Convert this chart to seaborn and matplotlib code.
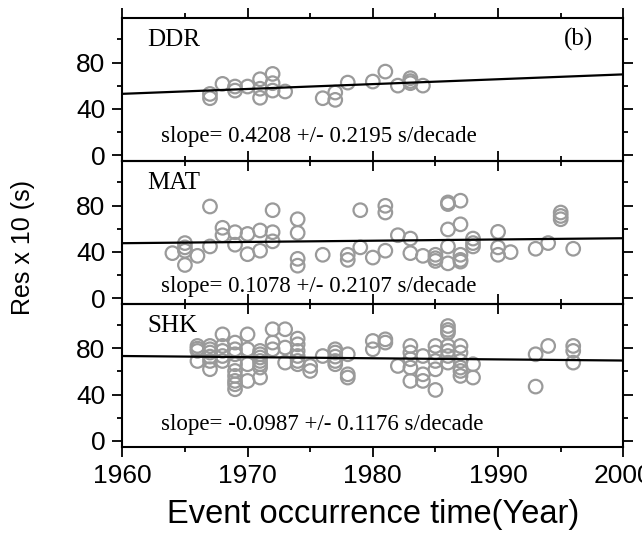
import pandas as pd
import matplotlib
matplotlib.use("Agg")
import matplotlib.pyplot as plt
import seaborn as sns
from matplotlib.ticker import MultipleLocator

# station names and fit labels
stations = ["DDR", "MAT", "SHK"]
slope_labels = ["slope= 0.4208 +/- 0.2195 s/decade",
                "slope= 0.1078 +/- 0.2107 s/decade",
                "slope= -0.0987 +/- 0.1176 s/decade"]

# fit line values at 1960 and 2000
fit_years = [1960, 2000]
fit_ddr = [53.0, 69.8]
fit_mat = [47.5, 51.8]
fit_shk = [73.3, 69.4]

# DDR residuals
ddr_year = [1967, 1967, 1968, 1969, 1969, 1970, 1971, 1971, 1971, 1972, 1972, 1972,
            1973, 1976, 1977, 1977, 1978, 1980, 1981, 1982, 1983, 1983, 1983, 1984]
ddr_res = [52.9, 49.2, 61.6, 59.3, 55.8, 59.3, 65.6, 57.4, 49.6, 70.2, 62.2, 55.8,
           55.0, 49.2, 54.1, 47.8, 62.7, 63.6, 72.2, 60.1, 66.5, 62.2, 64.0, 60.1]

# MAT residuals
mat_year = [1964, 1965, 1965, 1965, 1965, 1966, 1967, 1967, 1968, 1968, 1969, 1969,
            1970, 1970, 1971, 1971, 1972, 1972, 1972, 1974, 1974, 1974, 1974, 1976,
            1978, 1978, 1979, 1979, 1980, 1981, 1981, 1981, 1982, 1983, 1983, 1984,
            1985, 1985, 1985, 1986, 1986, 1986, 1986, 1986, 1987, 1987, 1987, 1987,
            1987, 1988, 1988, 1988, 1990, 1990, 1990, 1991, 1993, 1994, 1995, 1995,
            1995, 1996]
mat_res = [38.9, 47.6, 43.9, 41.0, 28.7, 36.6, 79.2, 44.7, 60.8, 54.4, 57.0, 46.2,
           55.5, 38.0, 58.5, 41.0, 76.0, 57.0, 49.1, 68.2, 56.4, 34.0, 28.1, 37.5,
           37.5, 33.1, 76.0, 43.9, 35.1, 79.8, 74.0, 41.0, 54.4, 51.5, 38.9, 36.6,
           37.5, 34.5, 32.2, 82.7, 81.3, 59.4, 44.7, 30.1, 84.2, 63.8, 37.5, 33.1,
           31.6, 51.5, 47.6, 44.7, 57.3, 43.9, 37.5, 39.8, 42.7, 47.6, 74.0, 71.0,
           68.2, 42.7]

# SHK residuals
shk_year = [1966, 1966, 1966, 1966,
            1967, 1967, 1967, 1967, 1967, 1967,
            1968, 1968, 1968, 1968, 1968,
            1969, 1969, 1969, 1969, 1969, 1969, 1969, 1969, 1969,
            1970, 1970, 1970, 1970,
            1971, 1971, 1971, 1971, 1971, 1971, 1971,
            1972, 1972, 1972,
            1973, 1973, 1973,
            1974, 1974, 1974, 1974, 1974, 1974,
            1975, 1975, 1976,
            1977, 1977, 1977, 1977, 1977,
            1978, 1978, 1978,
            1980, 1980, 1981, 1981, 1982,
            1983, 1983, 1983, 1983, 1983,
            1984, 1984, 1984,
            1985, 1985, 1985, 1985, 1985,
            1986, 1986, 1986, 1986, 1986, 1986, 1986,
            1987, 1987, 1987, 1987, 1987, 1987,
            1988, 1988, 1993, 1993, 1994, 1996, 1996, 1996]
shk_res = [82.0, 79.7, 77.7, 69.0,
           82.0, 79.1, 76.3, 72.8, 69.0, 61.9,
           92.0, 82.0, 77.7, 73.3, 69.0,
           84.9, 79.1, 74.8, 66.2, 60.4, 56.1, 51.8, 48.9, 44.6,
           92.0, 79.1, 66.2, 51.8,
           77.7, 74.8, 72.0, 69.0, 66.2, 63.3, 54.7,
           96.4, 84.9, 79.1,
           96.4, 80.6, 67.6,
           88.3, 83.4, 77.7, 73.3, 69.0, 66.2,
           64.7, 60.4, 73.3,
           79.1, 76.3, 72.8, 69.0, 66.2,
           74.8, 57.5, 54.7,
           86.3, 79.1, 87.7, 84.9, 64.7,
           82.0, 76.3, 70.5, 63.3, 51.8,
           73.3, 57.5, 51.8,
           82.0, 76.3, 69.0, 61.8, 44.0,
           99.2, 95.8, 93.5, 82.0, 77.7, 73.3, 67.6,
           82.0, 76.3, 69.0, 63.3, 60.4, 56.1,
           66.2, 54.7, 74.8, 46.9, 82.0, 82.0, 77.7, 67.6]

points = [pd.DataFrame({"year": ddr_year, "res": ddr_res}),
          pd.DataFrame({"year": mat_year, "res": mat_res}),
          pd.DataFrame({"year": shk_year, "res": shk_res})]
fits = [pd.DataFrame({"year": fit_years, "res": f}) for f in (fit_ddr, fit_mat, fit_shk)]

sns.set_style("ticks")
plt.rcParams["font.family"] = ["Liberation Sans", "DejaVu Sans"]
plt.rcParams["text.color"] = "black"
plt.rcParams["axes.labelcolor"] = "black"

fig = plt.figure(figsize=(6.42, 5.37), dpi=100)
bottoms = [0.7002, 0.4339, 0.1682]
slope_y = [0.135, 0.086, 0.119]
grey = "#9a9a9a"

for i in range(3):
    ax = fig.add_axes([0.1905, bottoms[i], 0.7804, 0.2663])
    ax.set_facecolor("none")
    sns.scatterplot(data=points[i], x="year", y="res", ax=ax, marker="o", s=95,
                    facecolor="none", edgecolor=grey, linewidth=1.6, zorder=2)
    sns.lineplot(data=fits[i], x="year", y="res", ax=ax, color="black", lw=1.6, zorder=3)
    ax.set_xlim(1960, 2000)
    ax.set_ylim(-5, 118.5)
    ax.xaxis.set_major_locator(MultipleLocator(10))
    ax.xaxis.set_minor_locator(MultipleLocator(5))
    ax.yaxis.set_major_locator(MultipleLocator(40))
    ax.yaxis.set_minor_locator(MultipleLocator(20))
    ax.tick_params(which="both", direction="out", top=True, right=True, width=1.3,
                   colors="black", labelcolor="black")
    ax.tick_params(which="major", length=7.2, labelsize=19, pad=5)
    ax.tick_params(which="minor", length=3.6)
    for sp in ax.spines.values():
        sp.set_linewidth(1.5)
        sp.set_color("black")
    ax.set_xlabel("")
    ax.set_ylabel("")
    if i < 2:
        ax.tick_params(labelbottom=False)
    ax.text(0.05, 0.805, stations[i], transform=ax.transAxes, fontsize=18,
            family="Liberation Serif", va="baseline")
    ax.text(0.0766, slope_y[i], slope_labels[i], transform=ax.transAxes, fontsize=16.5,
            family="Liberation Serif", va="baseline")
    if i == 0:
        ax.text(0.9395, 0.805, "(b)", transform=ax.transAxes, fontsize=18,
                family="Liberation Serif", va="baseline", ha="right")
    if i == 2:
        ax.set_xlabel("Event occurrence time(Year)", fontsize=23.5, labelpad=8)

fig.text(0.036, 0.54, "Res x 10 (s)", rotation=90, fontsize=18, va="center", ha="center")

fig.savefig("out.png", dpi=100)
